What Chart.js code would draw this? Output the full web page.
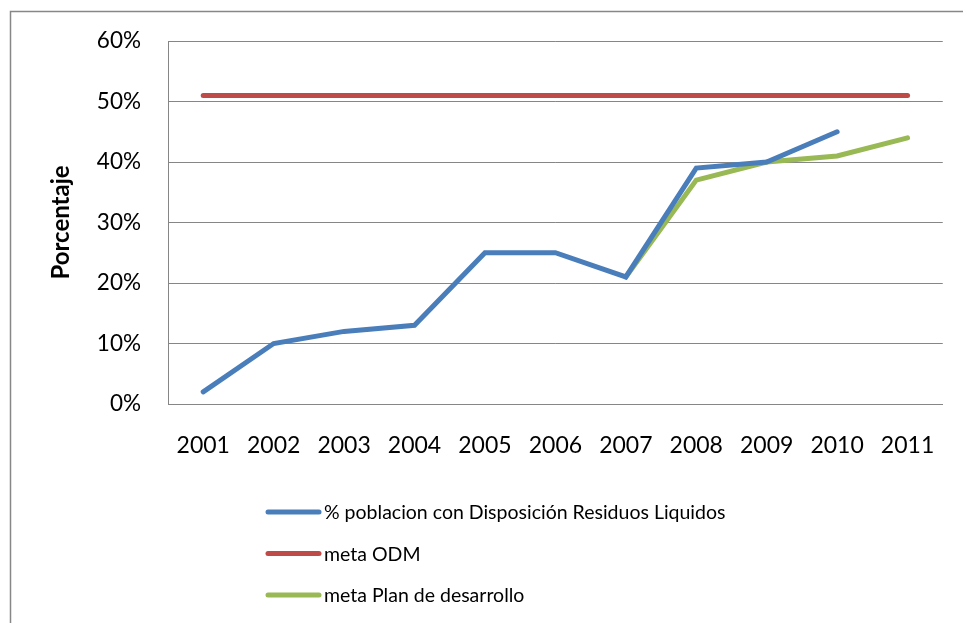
<!DOCTYPE html>
<html>
<head>
<meta charset="utf-8">
<script src="https://cdn.jsdelivr.net/npm/chart.js@4/dist/chart.umd.min.js"></script>
<style>
  html, body { margin: 0; padding: 0; background: #fff; }
  #wrap { width: 963px; height: 623px; position: relative; }
</style>
</head>
<body>
<div id="wrap"><canvas id="chart" width="963" height="623"></canvas></div>
<script>
// data
const years = ["2001", "2002", "2003", "2004", "2005", "2006", "2007", "2008", "2009", "2010", "2011"];
const poblacion = [2, 10, 12, 13, 25, 25, 21, 39, 40, 45, null];
const metaODM = [51, 51, 51, 51, 51, 51, 51, 51, 51, 51, 51];
const metaPlan = [null, null, null, null, null, null, 21, 37, 40, 41, 44];
const yTicks = [0, 10, 20, 30, 40, 50, 60];

const FONT = "Lato";

// outer frame (only top and left edges are visible in the crop)
const framePlugin = {
  id: "frame",
  beforeDraw(chart) {
    const c = chart.ctx;
    c.save();
    c.strokeStyle = "#878787";
    c.lineWidth = 1.5;
    c.strokeRect(10.5, 11.5, 1200, 1200);
    c.restore();
  }
};

// vertical legend below the plot, like the Excel one
const legendPlugin = {
  id: "vlegend",
  afterDraw(chart) {
    const c = chart.ctx;
    c.save();
    c.font = "19.5px " + FONT;
    c.textBaseline = "middle";
    c.lineCap = "round";
    chart.data.datasets.forEach((ds, i) => {
      const y = 512 + i * 41.5;
      c.strokeStyle = ds.borderColor;
      c.lineWidth = 5;
      c.beginPath();
      c.moveTo(268, y);
      c.lineTo(319, y);
      c.stroke();
      c.fillStyle = "#000";
      c.fillText(ds.label, 324, y + 1);
    });
    c.restore();
  }
};

const ctx = document.getElementById("chart").getContext("2d");
new Chart(ctx, {
  type: "line",
  data: {
    labels: years,
    datasets: [
      {
        label: "% poblacion con Disposición Residuos Liquidos",
        data: poblacion,
        borderColor: "#4a7ebb",
        backgroundColor: "#4a7ebb",
      },
      {
        label: "meta ODM",
        data: metaODM,
        borderColor: "#be4b48",
        backgroundColor: "#be4b48",
      },
      {
        label: "meta Plan de desarrollo",
        data: metaPlan,
        borderColor: "#98b954",
        backgroundColor: "#98b954",
      },
    ],
  },
  options: {
    responsive: false,
    animation: false,
    datasets: {
      line: {
        borderWidth: 5,
        pointRadius: 0,
        tension: 0,
        borderCapStyle: "round",
        borderJoinStyle: "miter",
        spanGaps: false,
      },
    },
    layout: { padding: { left: 10, top: 41, right: 17, bottom: 166 } },
    plugins: {
      legend: { display: false },
      tooltip: { enabled: false },
    },
    scales: {
      x: {
        offset: true,
        afterFit(scale) {
          scale.height = 53;
        },
        grid: { display: false, drawTicks: false, offset: true },
        border: { display: true, color: "#868686", width: 1 },
        ticks: {
          color: "#000",
          padding: 28,
          maxRotation: 0,
          autoSkip: false,
          font: { family: FONT, size: 23 },
        },
      },
      y: {
        min: 0,
        max: 60,
        afterBuildTicks(scale) {
          scale.ticks = yTicks.map((v) => ({ value: v }));
        },
        afterFit(scale) {
          scale.width = 158;
        },
        grid: { color: "#868686", lineWidth: 1, drawTicks: false },
        border: { display: true, color: "#868686", width: 1 },
        ticks: {
          color: "#000",
          padding: 27,
          font: { family: FONT, size: 22.5 },
          callback: (v) => v + "%",
        },
        title: {
          display: true,
          text: "Porcentaje",
          color: "#000",
          font: { family: FONT, size: 24, weight: "bold" },
          padding: { top: 36.6, bottom: 0 },
        },
      },
    },
  },
  plugins: [framePlugin, legendPlugin],
});
</script>
</body>
</html>
